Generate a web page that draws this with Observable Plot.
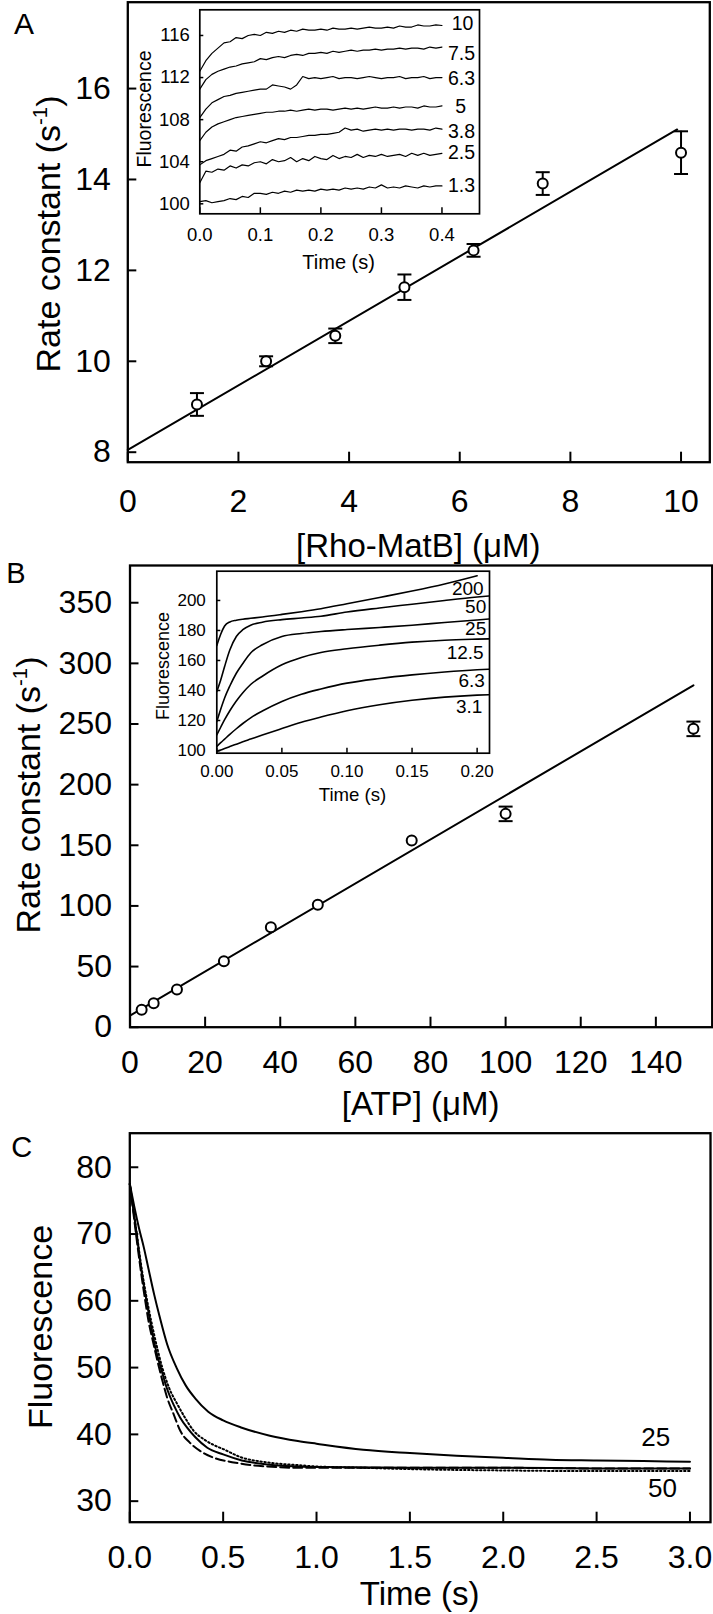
<!DOCTYPE html>
<html><head><meta charset="utf-8">
<script src="https://cdn.jsdelivr.net/npm/d3@7"></script>
<script src="https://cdn.jsdelivr.net/npm/@observablehq/plot@0.6"></script>
<style>
html,body{margin:0;padding:0;background:#fff;}
#fig{position:relative;width:713px;height:1614px;overflow:hidden;font-family:"Liberation Sans",Arial,Helvetica,sans-serif;color:#000;background:#fff;}
#fig svg{position:absolute;left:0;}
.t{position:absolute;white-space:nowrap;line-height:1;transform:translate(-50%,-50%);}
.t.r{transform:translate(-50%,-50%) rotate(-90deg);}
.t sup{font-size:0.6em;vertical-align:0.62em;line-height:0;}
</style></head><body><div id="fig"></div>
<script>
// ---------- Panel A data ----------
const aConc = [1.25, 2.5, 3.75, 5, 6.25, 7.5, 10];
const aRate = [9.05, 10.0, 10.56, 11.63, 12.44, 13.91, 14.59];
const aErr  = [0.25, 0.11, 0.16, 0.28, 0.14, 0.25, 0.47];
const aFitX = [0, 9.93];
const aFitY = [8.05, 15.1];
const aXTicks = [0, 2, 4, 6, 8, 10];
const aYTicks = [8, 10, 12, 14, 16];

// Panel A inset (stopped-flow traces)
const aInsetTime = [0,0.01,0.02,0.03,0.04,0.05,0.06,0.07,0.08,0.09,0.10,0.11,0.12,0.13,0.14,0.15,0.16,0.17,0.18,0.19,0.20,0.21,0.22,0.23,0.24,0.25,0.26,0.27,0.28,0.29,0.30,0.31,0.32,0.33,0.34,0.35,0.36,0.37,0.38,0.39,0.40];
const aTrace10 = [112.6,113.6,114.3,114.8,115.3,115.4,115.8,115.7,116.0,116.1,116.0,116.3,116.2,116.4,116.3,116.5,116.4,116.6,116.5,116.5,116.6,116.5,116.7,116.6,116.6,116.7,116.6,116.7,116.8,116.7,116.7,116.8,116.7,116.9,116.8,116.8,117.0,116.9,116.9,117.0,116.95];
const aTrace75 = [110.9,111.8,112.3,112.6,112.8,113.0,113.1,113.3,113.4,113.5,113.8,113.7,113.9,114.0,113.9,114.1,114.2,114.1,114.3,114.3,114.4,114.3,114.5,114.4,114.5,114.6,114.5,114.6,114.6,114.7,114.6,114.7,114.7,114.8,114.7,114.8,114.8,114.7,114.9,114.8,114.9];
const aTrace63 = [108.2,109.0,109.6,109.9,110.2,110.3,110.5,110.6,110.7,110.8,110.9,110.9,111.3,111.2,111.1,110.9,111.3,112.1,111.9,112.0,111.9,112.0,112.1,111.9,112.0,112.0,111.9,112.0,112.1,112.0,111.9,112.0,112.0,112.1,111.9,112.0,112.0,112.1,111.9,112.0,112.0];
const aTrace5  = [106.0,106.8,107.3,107.6,107.8,108.0,108.2,108.3,108.4,108.5,108.6,108.7,108.7,108.8,108.8,108.9,108.8,108.9,109.0,108.9,109.0,109.0,108.9,109.0,109.1,109.0,109.1,109.0,109.1,109.2,109.1,109.1,109.2,109.1,109.2,109.2,109.1,109.3,109.2,109.2,109.3];
const aTrace38 = [103.7,104.1,104.3,104.5,104.7,105.1,105.0,105.4,105.5,105.7,105.9,105.8,106.0,106.2,106.1,106.3,106.3,106.4,106.5,106.5,106.6,106.6,106.7,106.8,107.2,107.0,107.1,106.9,107.0,107.1,107.0,107.1,107.0,107.1,107.1,107.0,107.1,107.1,107.0,107.2,107.1];
const aTrace25 = [102.0,103.1,103.0,103.3,103.2,103.6,103.4,103.7,103.6,103.9,104.0,103.8,104.2,104.0,104.1,104.4,104.0,104.3,104.1,104.5,104.3,104.2,104.6,104.3,104.5,104.4,104.7,104.4,104.6,104.5,104.7,104.5,104.6,104.7,104.5,104.8,104.6,104.8,104.6,104.7,104.8];
const aTrace13 = [100.2,100.3,100.1,100.2,100.3,100.5,100.4,100.7,100.6,101.0,101.0,100.9,101.1,101.0,101.2,101.1,101.3,101.2,101.3,101.2,101.4,101.3,101.4,101.3,101.5,101.4,101.5,101.4,101.6,101.5,101.8,101.5,101.6,101.5,101.7,101.6,101.5,101.7,101.6,101.7,101.7];
const aTraceLabels = ["10", "7.5", "6.3", "5", "3.8", "2.5", "1.3"];
const aLabelT = [0.416, 0.41, 0.41, 0.422, 0.41, 0.41, 0.41];
const aLabelY = [117.1, 114.26, 111.88, 109.25, 106.81, 104.81, 101.74];
const aInsetXTicks = [0, 0.1, 0.2, 0.3, 0.4];
const aInsetYTicks = [100, 104, 108, 112, 116];

// ---------- Panel B data ----------
const bConc = [3.1, 6.3, 12.5, 25, 37.5, 50, 75, 100, 150];
const bRate = [14.3, 19.8, 31.1, 54.4, 82.4, 100.9, 153.9, 175.9, 246];
const bErr  = [0, 0, 0, 0, 0, 0, 0, 6, 6];
const bFitX = [0, 150];
const bFitY = [9.6, 281.9];
const bXTicks = [0, 20, 40, 60, 80, 100, 120, 140];
const bYTicks = [0, 50, 100, 150, 200, 250, 300, 350];

// Panel B inset
const bInsetTime = [0, 0.003, 0.006, 0.01, 0.015, 0.02, 0.026, 0.035, 0.05, 0.065, 0.08, 0.1, 0.125, 0.15, 0.175, 0.2, 0.209];
const bCurve200 = [170, 177.5, 183, 185.7, 186.8, 187.5, 188.1, 189, 190.7, 192.5, 194.5, 197.8, 202, 206.3, 211, 216.5, NaN];
const bCurve50  = [139.3, 147, 156, 167, 176, 180.5, 183.5, 185.5, 187.2, 188.3, 189.5, 192.3, 195, 197.5, 200, 202.3, 203];
const bCurve25  = [119.3, 127.5, 135, 143, 151.5, 158, 165, 170.5, 176, 178, 179.3, 180.6, 182, 183.5, 185.3, 187, 187.6];
const bCurve125 = [110.4, 115.5, 120.5, 126.5, 133, 138.5, 144, 149.5, 157.1, 162, 165.3, 167.8, 170.2, 172.2, 173.5, 174.2, 174.4];
const bCurve63  = [102.7, 105.2, 107.6, 110.8, 114.5, 118, 121.8, 126.3, 132.7, 137.5, 141, 144.9, 148, 150.4, 152.3, 153.8, 154.2];
const bCurve31  = [99.3, 100.3, 101.3, 102.6, 104.2, 105.8, 107.6, 110.3, 114.6, 118.8, 122.3, 126.5, 130.5, 133.5, 135.6, 136.9, 137.2];
const bCurveLabels = ["200", "50", "25", "12.5", "6.3", "3.1"];
const bLabelT = [0.205, 0.207, 0.207, 0.205, 0.206, 0.204];
const bLabelY = [207.8, 195.5, 181.1, 164.9, 146.7, 128.9];
const bInsetXTicks = [0, 0.05, 0.1, 0.15, 0.2];
const bInsetYTicks = [100, 120, 140, 160, 180, 200];

// ---------- Panel C data ----------
const cT25 = [0, 0.025, 0.05, 0.075, 0.1, 0.13, 0.16, 0.2, 0.25, 0.3, 0.35, 0.42, 0.5, 0.6, 0.75, 0.9, 1.0, 1.25, 1.5, 1.75, 2.0, 2.25, 2.5, 2.75, 3.0];
const cF25 = [77.5, 74.0, 70.8, 68.0, 64.8, 61.0, 57.6, 53.5, 50.0, 47.3, 45.4, 43.4, 42.1, 41.0, 39.8, 39.0, 38.6, 37.7, 37.2, 36.8, 36.5, 36.2, 36.1, 36.0, 35.9];
const cT50 = [0, 0.02, 0.04, 0.06, 0.08, 0.1, 0.12, 0.14, 0.166, 0.2, 0.237, 0.27, 0.307, 0.35, 0.415, 0.5, 0.6, 0.736, 0.9, 1.0, 1.5, 2.0, 2.5, 3.0];
const cF50 = [77.5, 73.5, 69.3, 65.0, 61.5, 58.3, 55.3, 52.6, 50.0, 46.8, 44.3, 42.5, 41.0, 39.6, 38.0, 37.0, 36.1, 35.5, 35.2, 35.1, 35.0, 35.0, 34.9, 34.9];
const cTDash = [0, 0.02, 0.04, 0.06, 0.08, 0.1, 0.125, 0.148, 0.175, 0.2, 0.235, 0.271, 0.32, 0.378, 0.45, 0.557, 0.65, 0.736, 0.9, 1.0, 1.5, 2.0, 2.5, 3.0];
const cFDash = [77.5, 73.0, 68.5, 64.3, 60.5, 57.0, 53.8, 51.0, 48.0, 45.5, 43.0, 40.5, 38.8, 37.5, 36.5, 35.8, 35.4, 35.2, 35.0, 35.0, 35.0, 35.0, 34.9, 34.9];
const cTDot = [0, 0.02, 0.04, 0.06, 0.08, 0.1, 0.13, 0.174, 0.21, 0.255, 0.3, 0.343, 0.4, 0.45, 0.5, 0.593, 0.736, 0.9, 1.0, 1.25, 1.5, 2.0, 2.5, 3.0];
const cFDot = [77.5, 73.6, 69.5, 65.5, 62.0, 59.0, 55.0, 50.0, 47.0, 44.5, 42.3, 40.5, 39.2, 38.4, 37.8, 36.6, 35.8, 35.4, 35.2, 35.0, 34.8, 34.6, 34.5, 34.5];
const cLabels = ["25", "50"];
const cLabelT = [2.817, 2.853];
const cLabelF = [39.5, 31.8];
const cXTicks = [0, 0.5, 1, 1.5, 2, 2.5, 3];
const cYTicks = [30, 40, 50, 60, 70, 80];

// ---------- helpers ----------
const FONT = '"Liberation Sans", Arial, Helvetica, sans-serif';
const fig = document.getElementById("fig");
const W = 713;
const TICKFS = 32;
function box(f, top, height) {
  return {width: W, height, marginLeft: f.L, marginRight: W - f.R, marginTop: f.T - top, marginBottom: top + height - f.B};
}
function place(svg, top) { svg.style.top = top + "px"; svg.style.left = "0px"; fig.appendChild(svg); }
const capSymbol = {draw(ctx, size) { const h = Math.sqrt(size / Math.PI) * 1.75; ctx.moveTo(-h, 0); ctx.lineTo(h, 0); }};
const zip = (xs, ys) => xs.map((x, i) => ({x, y: ys[i]}));
function styleFor() { return {fontFamily: FONT, background: "transparent", color: "black", overflow: "visible"}; }
function errMarks(pts) {
  const e = pts.filter(d => d.e > 0);
  return [
    Plot.ruleX(e, {x: "x", y1: d => d.y - d.e, y2: d => d.y + d.e, stroke: "black", strokeWidth: 2}),
    Plot.dot(e, {x: "x", y: d => d.y - d.e, symbol: capSymbol, r: 4, stroke: "black", strokeWidth: 2, fill: "none"}),
    Plot.dot(e, {x: "x", y: d => d.y + d.e, symbol: capSymbol, r: 4, stroke: "black", strokeWidth: 2, fill: "none"})
  ];
}
// frame, inward ticks, and tick labels (text marks positioned by the plot's own x/y scales)
function frameMarks(f, xt, yt, o) {
  return [
    Plot.frame({stroke: "black", strokeWidth: o.fw}),
    Plot.tickX(xt, {x: d => d, insetTop: (f.B - f.T) - o.xt, stroke: "black", strokeWidth: o.tw}),
    Plot.tickY(yt, {y: d => d, insetRight: (f.R - f.L) - o.yt, stroke: "black", strokeWidth: o.tw}),
    Plot.text(xt, {x: d => d, frameAnchor: "bottom", lineAnchor: "middle", dy: o.xp, text: o.xf, fontSize: o.fs, fill: "black"}),
    Plot.text(yt, {y: d => d, frameAnchor: "left", textAnchor: "end", lineAnchor: "middle", dx: -o.yp, text: o.yf, fontSize: o.fs, fill: "black"})
  ];
}
const noAxis = {axis: null, label: null};

// ---------- Panel A ----------
const FA = {L: 127.3, T: 1.7, R: 709.3, B: 461.7};
const aPts = aConc.map((x, i) => ({x, y: aRate[i], e: aErr[i]}));
place(Plot.plot({
  ...box(FA, 0, 525), style: styleFor(),
  x: {domain: [0, 10.52], ...noAxis}, y: {domain: [7.78, 17.9], ...noAxis},
  marks: [
    ...frameMarks(FA, aXTicks, aYTicks, {fw: 2.3, tw: 2, xt: 10, yt: 9, xp: 39.5, yp: 17, fs: TICKFS, xf: d => String(d), yf: d => String(d)}),
    Plot.line(zip(aFitX, aFitY), {x: "x", y: "y", stroke: "black", strokeWidth: 2}),
    ...errMarks(aPts),
    Plot.dot(aPts, {x: "x", y: "y", r: 5, fill: "white", stroke: "black", strokeWidth: 2})
  ]
}), 0);

const FAI = {L: 199.3, T: 9.3, R: 479, B: 213.3};
const aTraceSeries = [aTrace10, aTrace75, aTrace63, aTrace5, aTrace38, aTrace25, aTrace13];
const aTraceData = aTraceSeries.flatMap((vals, k) => vals.map((v, i) => ({t: aInsetTime[i], v, s: aTraceLabels[k]})));
const aLabelData = aTraceLabels.map((s, i) => ({s, t: aLabelT[i], v: aLabelY[i]}));
place(Plot.plot({
  ...box(FAI, 0, 300), style: styleFor(),
  x: {domain: [0, 0.462], ...noAxis}, y: {domain: [99.05, 118.44], ...noAxis},
  marks: [
    Plot.frame({fill: "white"}),
    ...frameMarks(FAI, aInsetXTicks, aInsetYTicks, {fw: 1.7, tw: 1.5, xt: 6, yt: 4, xp: 21.7, yp: 10, fs: 18.5, xf: d => d.toFixed(1), yf: d => String(d)}),
    Plot.line(aTraceData, {x: "t", y: "v", z: "s", stroke: "black", strokeWidth: 1.2}),
    Plot.text(aLabelData, {x: "t", y: "v", text: "s", textAnchor: "start", fontSize: 19.5, fill: "black"})
  ]
}), 0);

// ---------- Panel B ----------
const FB = {L: 129.5, T: 565, R: 711.7, B: 1026.7};
const bPts = bConc.map((x, i) => ({x, y: bRate[i], e: bErr[i]}));
place(Plot.plot({
  ...box(FB, 530, 550), style: styleFor(),
  x: {domain: [0, 155], ...noAxis}, y: {domain: [0, 380.7], ...noAxis},
  marks: [
    ...frameMarks(FB, bXTicks, bYTicks, {fw: 2.3, tw: 2, xt: 10, yt: 9, xp: 35.5, yp: 18, fs: TICKFS, xf: d => String(d), yf: d => String(d)}),
    Plot.line(zip(bFitX, bFitY), {x: "x", y: "y", stroke: "black", strokeWidth: 2}),
    ...errMarks(bPts),
    Plot.dot(bPts, {x: "x", y: "y", r: 5, fill: "white", stroke: "black", strokeWidth: 2})
  ]
}), 530);

const FBI = {L: 216.3, T: 570.7, R: 489, B: 752.7};
const bCurves = [bCurve200, bCurve50, bCurve25, bCurve125, bCurve63, bCurve31];
const bCurveData = bCurves.flatMap((vals, k) => vals.map((v, i) => ({t: bInsetTime[i], v, s: bCurveLabels[k]})));
const bLabelData = bCurveLabels.map((s, i) => ({s, t: bLabelT[i], v: bLabelY[i]}));
place(Plot.plot({
  ...box(FBI, 530, 300), style: styleFor(),
  x: {domain: [0, 0.2095], ...noAxis}, y: {domain: [98.2, 219.5], ...noAxis},
  marks: [
    Plot.frame({fill: "white"}),
    ...frameMarks(FBI, bInsetXTicks, bInsetYTicks, {fw: 1.7, tw: 1.5, xt: 5, yt: 4, xp: 18.5, yp: 11, fs: 17, xf: d => d.toFixed(2), yf: d => String(d)}),
    Plot.line(bCurveData, {x: "t", y: "v", z: "s", stroke: "black", strokeWidth: 1.6, curve: "monotone-x"}),
    Plot.text(bLabelData, {x: "t", y: "v", text: "s", textAnchor: "end", fontSize: 19, fill: "black"})
  ]
}), 530);

// ---------- Panel C ----------
const FC = {L: 129.3, T: 1132.7, R: 710, B: 1521.7};
const cLabelData = cLabels.map((s, i) => ({s, t: cLabelT[i], v: cLabelF[i]}));
place(Plot.plot({
  ...box(FC, 1085, 529), style: styleFor(),
  x: {domain: [0, 3.11], ...noAxis}, y: {domain: [26.85, 85.1], ...noAxis},
  marks: [
    ...frameMarks(FC, cXTicks, cYTicks, {fw: 2.3, tw: 2, xt: 10, yt: 9, xp: 35.5, yp: 18, fs: TICKFS, xf: d => d.toFixed(1), yf: d => String(d)}),
    Plot.line(zip(cTDot, cFDot), {x: "x", y: "y", stroke: "black", strokeWidth: 2, strokeDasharray: "1.5,2.5", curve: "monotone-x"}),
    Plot.line(zip(cTDash, cFDash), {x: "x", y: "y", stroke: "black", strokeWidth: 2, strokeDasharray: "9,4", curve: "monotone-x"}),
    Plot.line(zip(cT50, cF50), {x: "x", y: "y", stroke: "black", strokeWidth: 2, curve: "monotone-x"}),
    Plot.line(zip(cT25, cF25), {x: "x", y: "y", stroke: "black", strokeWidth: 2, curve: "monotone-x"}),
    Plot.text(cLabelData, {x: "t", y: "v", text: "s", fontSize: 26, fill: "black"})
  ]
}), 1085);

// ---------- titles and panel letters ----------
const labels = [
  {h: "A", x: 24, y: 24, s: 30},
  {h: "Rate constant (s<sup>-1</sup>)", x: 48, y: 234, s: 34, r: true},
  {h: "[Rho-MatB] (&mu;M)", x: 418.3, y: 545, s: 33},
  {h: "Fluorescence", x: 145, y: 109, s: 19.5, r: true},
  {h: "Time (s)", x: 338.6, y: 261.7, s: 20},
  {h: "B", x: 16, y: 573, s: 29},
  {h: "Rate constant (s<sup>-1</sup>)", x: 28, y: 795, s: 34, r: true},
  {h: "[ATP] (&mu;M)", x: 420.6, y: 1103, s: 33},
  {h: "Fluorescence", x: 163.3, y: 666, s: 18, r: true},
  {h: "Time (s)", x: 352.5, y: 795, s: 18.6},
  {h: "C", x: 21.7, y: 1146.7, s: 29},
  {h: "Fluorescence", x: 39.5, y: 1326.7, s: 34, r: true},
  {h: "Time (s)", x: 419.6, y: 1593.3, s: 33}
];
for (const l of labels) {
  const d = document.createElement("div");
  d.className = "t" + (l.r ? " r" : "");
  d.innerHTML = l.h;
  d.style.left = l.x + "px"; d.style.top = l.y + "px"; d.style.fontSize = l.s + "px";
  fig.appendChild(d);
}
</script></body></html>
